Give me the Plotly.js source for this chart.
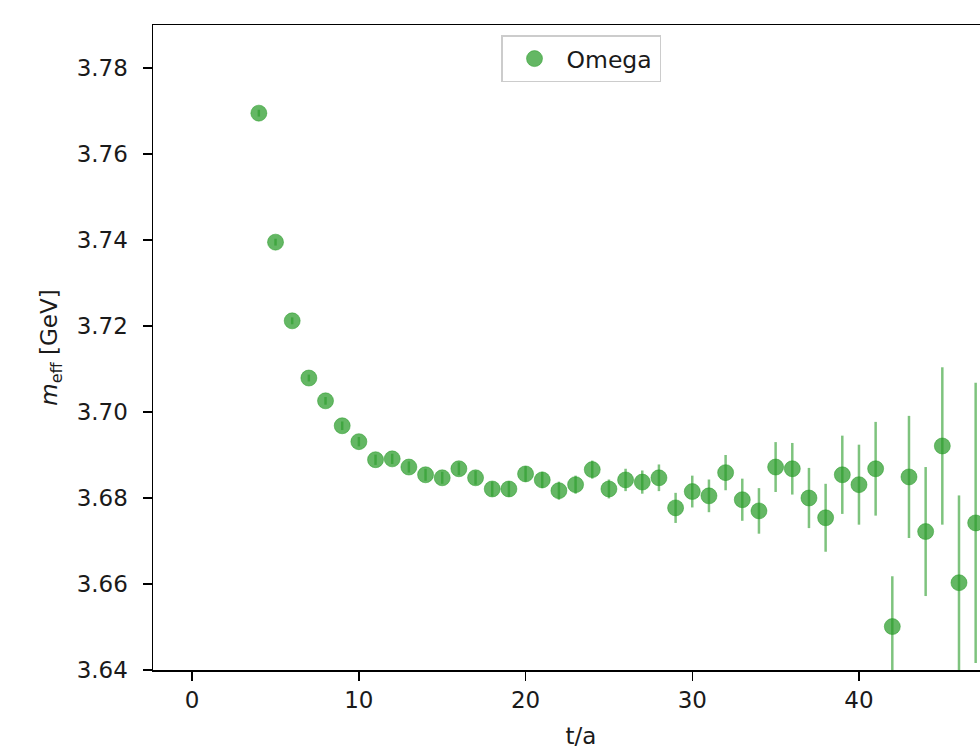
<!DOCTYPE html>
<html>
<head>
<meta charset="utf-8">
<script src="https://cdn.plot.ly/plotly-3.0.1.min.js"></script>
<style>
html,body{margin:0;padding:0;overflow:hidden;background:#fff;}
#chart{width:1100px;height:750px;}
</style>
</head>
<body>
<div id="chart"></div>
<script>
const tValues = [4,5,6,7,8,9,10,11,12,13,14,15,16,17,18,19,20,21,22,23,24,25,26,27,28,29,30,31,32,33,34,35,36,37,38,39,40,41,42,43,44,45,46,47];
const meffValues = [3.7695,3.7395,3.7212,3.7079,3.7026,3.6968,3.6931,3.6889,3.6891,3.6872,3.6854,3.6847,3.6868,3.6847,3.6821,3.6821,3.6856,3.6842,3.6817,3.6831,3.6866,3.6821,3.6842,3.6837,3.6847,3.6777,3.6815,3.6805,3.6859,3.6796,3.6770,3.6872,3.6868,3.6800,3.6754,3.6854,3.6831,3.6868,3.6501,3.6849,3.6722,3.6921,3.6603,3.6742];
const meffErrors = [0.0008,0.0008,0.0008,0.0008,0.0009,0.0010,0.0011,0.0012,0.0012,0.0013,0.0014,0.0014,0.0015,0.0016,0.0017,0.0018,0.0018,0.0019,0.0021,0.0021,0.0021,0.0022,0.0026,0.0027,0.0031,0.0035,0.0037,0.0038,0.0041,0.0049,0.0053,0.0058,0.0060,0.0070,0.0079,0.0091,0.0093,0.0109,0.0117,0.0142,0.0150,0.0183,0.0203,0.0326];
const seriesName = 'Omega';
const xTickVals = [0,10,20,30,40];
const yTickVals = [3.64,3.66,3.68,3.70,3.72,3.74,3.76,3.78];

const trace = {
  x: tValues,
  y: meffValues,
  error_y: {type:'data', array: meffErrors, visible:true, color:'rgba(40,155,40,0.6)', thickness:2.5, width:0},
  mode: 'markers',
  type: 'scatter',
  name: seriesName,
  marker: {size:16, color:'rgba(40,155,40,0.72)', line:{width:1, color:'rgba(40,155,40,0.5)'}},
  showlegend: true
};

const fontBase = {family:'DejaVu Sans, sans-serif', size:23, color:'#1a1a1a'};

const layout = {
  width: 1100, height: 750,
  margin: {l:153, r:91, t:25, b:80},
  paper_bgcolor:'#fff', plot_bgcolor:'#fff',
  font: fontBase,
  showlegend: true,
  xaxis: {
    range: [-2.35, 49.0],
    tickvals: xTickVals,
    ticks: 'outside', ticklen: 9, tickwidth: 1.5, tickcolor:'#000',
    ticklabelstandoff: 0,
    showline: true, linecolor:'#000', linewidth:1.5, mirror:true,
    showgrid:false, zeroline:false,
    tickfont: fontBase,
    title: {text:'t/a', font: fontBase, standoff: 16}
  },
  yaxis: {
    range: [3.64, 3.79],
    tickvals: yTickVals,
    tickformat: '.2f',
    ticks: 'outside', ticklen: 9, tickwidth: 1.5, tickcolor:'#000',
    ticklabelstandoff: 10,
    showline: true, linecolor:'#000', linewidth:1.5, mirror:true,
    showgrid:false, zeroline:false,
    tickfont: fontBase,
    title: {text:'<i>m</i><sub>eff</sub> [GeV]', font: fontBase, standoff: 12}
  },
  legend: {
    x: 0.5, xanchor:'center', y: 0.984, yanchor:'top',
    bgcolor:'#fff', bordercolor:'#cccccc', borderwidth:1.5,
    font: Object.assign({}, fontBase, {size:23.5}),
    itemwidth: 54,
    orientation:'h', entrywidth: 88
  }
};

Plotly.newPlot('chart', [trace], layout, {displayModeBar:false, staticPlot:true});
</script>
</body>
</html>
